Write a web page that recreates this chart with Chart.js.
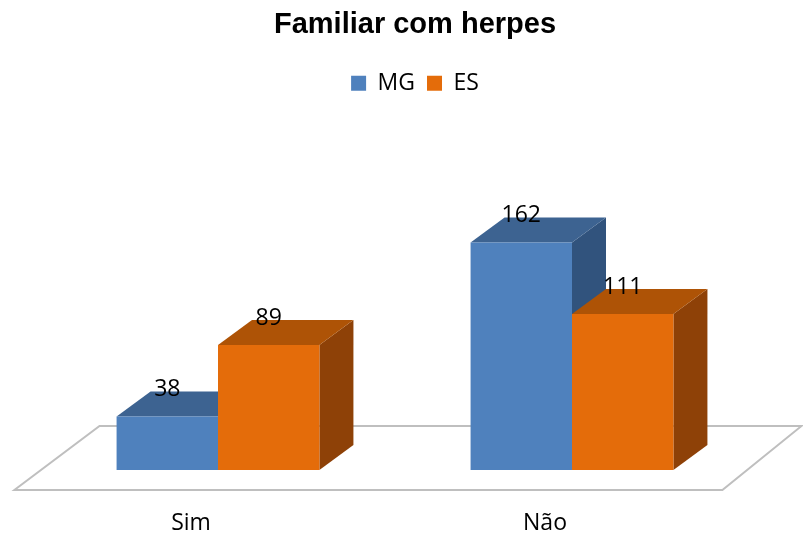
<!DOCTYPE html>
<html>
<head>
<meta charset="utf-8">
<script src="https://cdn.jsdelivr.net/npm/chart.js@4/dist/chart.umd.min.js"></script>
<style>
  body { margin: 0; background: #fff; }
  canvas { display: block; }
</style>
</head>
<body>
<canvas id="grafik" width="803" height="537"></canvas>
<script>
// podaci
const kategorije = ["Sim", "Não"];
const serijaMG = [38, 162];
const serijaES = [89, 111];
const naziviSerija = ["MG", "ES"];

// boje: prednja strana, vrh, bok
const bojeMG = { front: "#4F81BD", top: "#3D6391", side: "#31537D" };
const bojeES = { front: "#E46C0A", top: "#AE5306", side: "#8E4107" };
const boje = [bojeMG, bojeES];

const DUBINA_X = 34;
const DUBINA_Y = -25;
const FONT = "'Open Sans'";

function poligon(ctx, tacke, boja) {
    ctx.beginPath();
    ctx.moveTo(tacke[0][0], tacke[0][1]);
    for (let i = 1; i < tacke.length; i++) ctx.lineTo(tacke[i][0], tacke[i][1]);
    ctx.closePath();
    ctx.fillStyle = boja;
    ctx.fill();
}

// pod i 3D strane stubaca
const plugin3D = {
    id: "plugin3D",
    beforeDatasetsDraw(chart) {
        const ctx = chart.ctx;
        const { left, right, bottom } = chart.chartArea;
        const nagib = 1.33;

        // pod
        const naprijed = bottom + 20;
        const nazad = bottom - 44;
        ctx.save();
        ctx.beginPath();
        ctx.moveTo(left - 20 * nagib, naprijed);
        ctx.lineTo(right - 20 * nagib, naprijed);
        ctx.lineTo(right + 44 * nagib - 6, nazad);
        ctx.lineTo(left + 44 * nagib, nazad);
        ctx.closePath();
        ctx.fillStyle = "#ffffff";
        ctx.fill();
        ctx.strokeStyle = "#BFBFBF";
        ctx.lineWidth = 2;
        ctx.stroke();

        // vrh i bok
        chart.data.datasets.forEach((ds, i) => {
            const meta = chart.getDatasetMeta(i);
            meta.data.forEach(bar => {
                const { x, y, base, width } = bar.getProps(["x", "y", "base", "width"], true);
                const x1 = x - width / 2;
                const x2 = x + width / 2;
                poligon(ctx, [[x2, y], [x2 + DUBINA_X, y + DUBINA_Y], [x2 + DUBINA_X, base + DUBINA_Y], [x2, base]], boje[i].side);
                poligon(ctx, [[x1, y], [x2, y], [x2 + DUBINA_X, y + DUBINA_Y], [x1 + DUBINA_X, y + DUBINA_Y]], boje[i].top);
            });
        });
        ctx.restore();
    },
    afterDatasetsDraw(chart) {
        const ctx = chart.ctx;
        ctx.save();
        ctx.font = "23px " + FONT;
        ctx.fillStyle = "#000";
        ctx.textAlign = "center";
        ctx.textBaseline = "middle";
        chart.data.datasets.forEach((ds, i) => {
            const meta = chart.getDatasetMeta(i);
            meta.data.forEach((bar, j) => {
                ctx.fillText(ds.data[j], bar.x, bar.y - 27);
            });
        });
        ctx.restore();
    }
};

new Chart(document.getElementById("grafik").getContext("2d"), {
    type: "bar",
    data: {
        labels: kategorije,
        datasets: [
            {
                label: naziviSerija[0],
                data: serijaMG,
                backgroundColor: bojeMG.front,
                barPercentage: 1,
                categoryPercentage: 0.573
            },
            {
                label: naziviSerija[1],
                data: serijaES,
                backgroundColor: bojeES.front,
                barPercentage: 1,
                categoryPercentage: 0.573
            }
        ]
    },
    options: {
        responsive: false,
        animation: false,
        layout: { padding: { left: 41, right: 14, top: 0, bottom: 1 } },
        plugins: {
            title: {
                display: true,
                text: "Familiar com herpes",
                color: "#000",
                font: { family: "'Liberation Sans', Arial", size: 29, weight: "bold" },
                padding: { top: 8, bottom: 17 }
            },
            legend: {
                position: "top",
                labels: {
                    color: "#000",
                    font: { family: FONT, size: 23 },
                    boxWidth: 15,
                    boxHeight: 15,
                    padding: 12
                }
            },
            tooltip: { enabled: false }
        },
        scales: {
            x: {
                grid: { display: false, drawTicks: false },
                border: { display: false },
                ticks: {
                    color: "#000",
                    font: { family: FONT, size: 23 },
                    padding: 40,
                    labelOffset: -27
                },
                afterFit(scale) {
                    scale.height = 66;
                }
            },
            y: {
                position: "right",
                min: 0,
                max: 260,
                grid: { display: false, drawTicks: false },
                border: { display: false },
                ticks: { display: false },
                afterFit(scale) {
                    scale.width = 40;
                }
            }
        }
    },
    plugins: [plugin3D]
});
</script>
</body>
</html>
